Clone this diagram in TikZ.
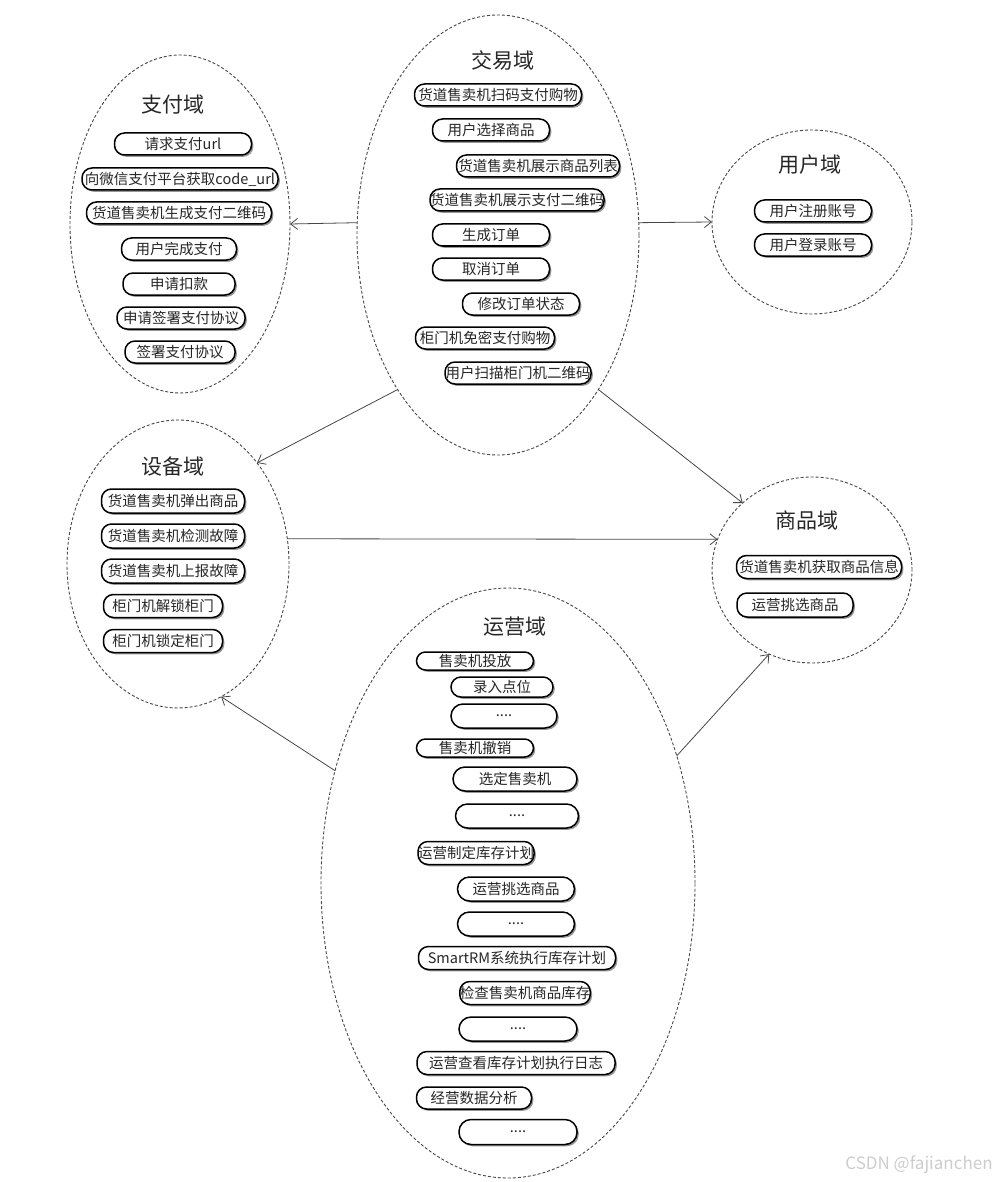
\documentclass[tikz,border=0pt]{standalone}
\usepackage{fontspec}
\setmainfont{Noto Sans CJK SC}
\usetikzlibrary{arrows.meta}
\usetikzlibrary{shapes.geometric}
\usetikzlibrary{shadows}
\usetikzlibrary{positioning}
\tikzset{domzone/.style = {ellipse, draw = mgray, dash pattern = on 3pt off 2pt, line width = 0.9pt, inner sep = 0, outer sep = 0}}
\tikzset{dname/.style = {text = mtext, font = \fontsize{21}{24}\selectfont}}
\tikzset{pill/.style = {draw, rectangle, rounded corners = 10pt, line width = 1.5pt, fill = white, inner sep = 0, minimum height = 22, text = mtext, font = \fontsize{14.5}{16}\selectfont, drop shadow = {shadow xshift = 1.8pt, shadow yshift = -1.8pt, fill = mshadow, opacity = 0.9}}}
\tikzset{conn/.style = {draw = mgray, line width = 0.8pt, -{Straight Barb[length = 7pt, width = 11pt]}}}
\definecolor{mgray}{rgb}{0.28, 0.28, 0.28}
\definecolor{mtext}{rgb}{0.15, 0.15, 0.15}
\definecolor{mshadow}{rgb}{0.55, 0.55, 0.55}
\definecolor{mmark}{rgb}{0.8, 0.8, 0.8}

\begin{document}
\begin{tikzpicture}[x = 1pt, y = -1pt]
      \useasboundingbox (0, 0) rectangle (998, 1182);

      % domains
      \node [domzone, minimum width = 220, minimum height = 338] (zf) at (180, 224) {};
      \node [domzone, minimum width = 282, minimum height = 440] (jy) at (498, 235) {};
      \node [domzone, minimum width = 200, minimum height = 184] (yh) at (812, 222) {};
      \node [domzone, minimum width = 222, minimum height = 288] (sb) at (178, 564) {};
      \node [domzone, minimum width = 200, minimum height = 186] (sp) at (812, 570) {};
      \node [domzone, minimum width = 374, minimum height = 590] (yy) at (508, 883) {};

      \node [dname] (zft) at (173, 105) {支付域};
      \node [dname] (jyt) at (503, 60) {交易域};
      \node [dname] (yht) at (810, 165) {用户域};
      \node [dname] (sbt) at (173, 467) {设备域};
      \node [dname] (spt) at (807, 520) {商品域};
      \node [dname] (yyt) at (515, 627) {运营域};

      % 支付域
      \node [pill, minimum width = 137] (zf1) at (183, 144) {请求支付url};
      \node [pill, minimum width = 196] (zf2) at (180, 179) {向微信支付平台获取code\_url};
      \node [pill, minimum width = 185] (zf3) at (179, 213) {货道售卖机生成支付二维码};
      \node [pill, minimum width = 115] (zf4) at (179, 249) {用户完成支付};
      \node [pill, minimum width = 112] (zf5) at (179, 284) {申请扣款};
      \node [pill, minimum width = 128] (zf6) at (181, 318) {申请签署支付协议};
      \node [pill, minimum width = 110] (zf7) at (180, 352) {签署支付协议};

      % 交易域
      \node [pill, minimum width = 167] (jy1) at (498, 95) {货道售卖机扫码支付购物};
      \node [pill, minimum width = 117] (jy2) at (491, 130) {用户选择商品};
      \node [pill, minimum width = 163] (jy3) at (538, 166) {货道售卖机展示商品列表};
      \node [pill, minimum width = 173] (jy4) at (517, 200) {货道售卖机展示支付二维码};
      \node [pill, minimum width = 117] (jy5) at (491, 235) {生成订单};
      \node [pill, minimum width = 117] (jy6) at (491, 269) {取消订单};
      \node [pill, minimum width = 117] (jy7) at (521, 304) {修改订单状态};
      \node [pill, minimum width = 139] (jy8) at (485, 338) {柜门机免密支付购物};
      \node [pill, minimum width = 146] (jy9) at (518, 373) {用户扫描柜门机二维码};

      % 用户域
      \node [pill, minimum width = 117] (yh1) at (813, 211) {用户注册账号};
      \node [pill, minimum width = 117] (yh2) at (813, 245) {用户登录账号};

      % 设备域
      \node [pill, minimum width = 143, minimum height = 24] (sb1) at (173, 501) {货道售卖机弹出商品};
      \node [pill, minimum width = 143, minimum height = 24] (sb2) at (173, 536) {货道售卖机检测故障};
      \node [pill, minimum width = 143, minimum height = 24] (sb3) at (173, 571) {货道售卖机上报故障};
      \node [pill, minimum width = 119, minimum height = 23] (sb4) at (163, 606) {柜门机解锁柜门};
      \node [pill, minimum width = 119, minimum height = 23] (sb5) at (163, 641) {柜门机锁定柜门};

      % 商品域
      \node [pill, minimum width = 165, minimum height = 23] (sp1) at (819, 567) {货道售卖机获取商品信息};
      \node [pill, minimum width = 116, minimum height = 24] (sp2) at (795, 605) {运营挑选商品};

      % 运营域
      \node [pill, minimum width = 117, minimum height = 18, rounded corners = 9pt] (yy1) at (475, 661) {售卖机投放};
      \node [pill, minimum width = 102, minimum height = 20] (yy2) at (502, 687) {录入点位};
      \node [pill, minimum width = 106, minimum height = 24, rounded corners = 12pt] (yy3) at (504, 716) {....};
      \node [pill, minimum width = 117, minimum height = 18, rounded corners = 9pt] (yy4) at (475, 748) {售卖机撤销};
      \node [pill, minimum width = 124, minimum height = 24, rounded corners = 12pt] (yy5) at (515, 779) {选定售卖机};
      \node [pill, minimum width = 123, minimum height = 24, rounded corners = 12pt] (yy6) at (517, 816) {....};
      \node [pill, minimum width = 114, minimum height = 23] (yy7) at (476, 853) {运营制定库存计划};
      \node [pill, minimum width = 117, minimum height = 24, rounded corners = 12pt] (yy8) at (516, 889) {运营挑选商品};
      \node [pill, minimum width = 117, minimum height = 24, rounded corners = 12pt] (yy9) at (516, 924) {....};
      \node [pill, minimum width = 197, minimum height = 23] (yy10) at (517, 958) {SmartRM系统执行库存计划};
      \node [pill, minimum width = 129, minimum height = 23] (yy11) at (525, 993) {检查售卖机商品库存};
      \node [pill, minimum width = 118, minimum height = 24, rounded corners = 12pt] (yy12) at (518, 1029) {....};
      \node [pill, minimum width = 198, minimum height = 23] (yy13) at (516, 1063) {运营查看库存计划执行日志};
      \node [pill, minimum width = 115, minimum height = 22] (yy14) at (474, 1098) {经营数据分析};
      \node [pill, minimum width = 118, minimum height = 25, rounded corners = 12pt] (yy15) at (518, 1132) {....};

      % links between domains
      \draw [conn] (jy.175) -- (zf.east);
      \draw [conn] (jy.5) -- (yh.west);
      \draw [conn] (jy.237) -- (sb.52);
      \draw [conn] (jy.303) -- (sp.136);
      \draw [conn] (sb.13) -- (sp.162);
      \draw [conn] (yy.147) -- (sb.288);
      \draw [conn] (yy.37) -- (sp.243);

      \node [text = mmark, font = \fontsize{17}{20}\selectfont] (wm) at (919, 1165) {CSDN @fajianchen};
    \end{tikzpicture}
\end{document}
